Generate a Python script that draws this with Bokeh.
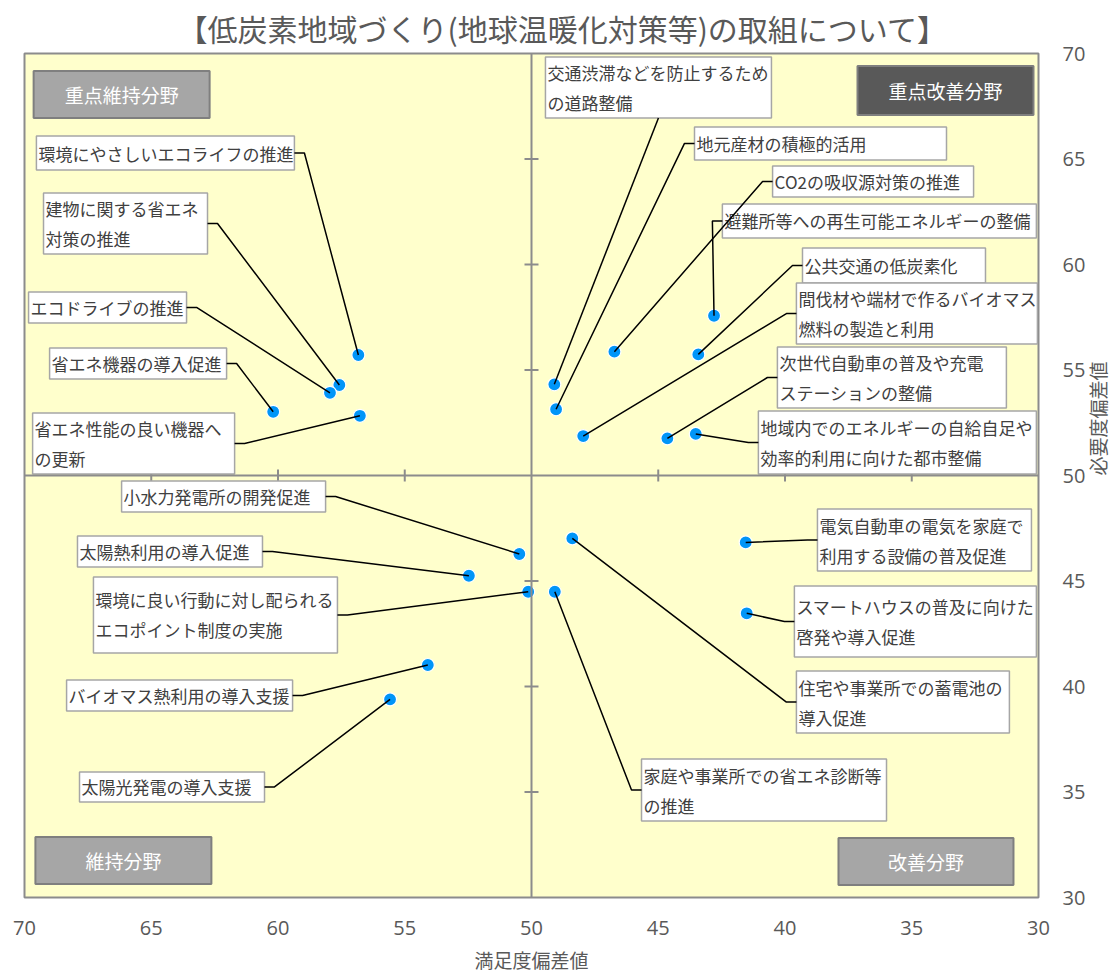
import math
from bokeh.plotting import figure
from bokeh.models import Range1d, FixedTicker, Span
from bokeh.core.properties import value
from bokeh.embed import file_html
from bokeh.resources import INLINE

# ---------------- data ----------------
title_text = "【低炭素地域づくり(地球温暖化対策等)の取組について】"
x_label = "満足度偏差値"
y_label = "必要度偏差値"
x_ticks = [70, 65, 60, 55, 50, 45, 40, 35, 30]
y_ticks = [30, 35, 40, 45, 50, 55, 60, 65, 70]

items = [
    "環境にやさしいエコライフの推進",
    "建物に関する省エネ\n対策の推進",
    "エコドライブの推進",
    "省エネ機器の導入促進",
    "省エネ性能の良い機器へ\nの更新",
    "交通渋滞などを防止するため\nの道路整備",
    "地元産材の積極的活用",
    "CO2の吸収源対策の推進",
    "避難所等への再生可能エネルギーの整備",
    "公共交通の低炭素化",
    "間伐材や端材で作るバイオマス\n燃料の製造と利用",
    "次世代自動車の普及や充電\nステーションの整備",
    "地域内でのエネルギーの自給自足や\n効率的利用に向けた都市整備",
    "小水力発電所の開発促進",
    "太陽熱利用の導入促進",
    "環境に良い行動に対し配られる\nエコポイント制度の実施",
    "バイオマス熱利用の導入支援",
    "太陽光発電の導入支援",
    "電気自動車の電気を家庭で\n利用する設備の普及促進",
    "スマートハウスの普及に向けた\n啓発や導入促進",
    "住宅や事業所での蓄電池の\n導入促進",
    "家庭や事業所での省エネ診断等\nの推進",
]
satisfaction = [56.83, 57.58, 57.95, 60.19, 56.77, 49.10, 49.03, 46.73, 42.80, 43.42, 47.96,
                44.64, 43.52, 50.48, 52.47, 50.13, 54.09, 55.58, 41.55, 41.51, 48.39, 49.08]
necessity = [55.71, 54.29, 53.92, 53.02, 52.83, 54.32, 53.14, 55.87, 57.57, 55.74, 51.87,
             51.76, 51.97, 46.28, 45.25, 44.49, 41.02, 39.39, 46.83, 43.47, 47.02, 44.49]

quadrant_names = ["重点維持分野", "重点改善分野", "維持分野", "改善分野"]

# ---------------- layout (annotation boxes) ----------------
# left / top edge of each label box in axis units, width / height in pixels
box_left = [69.53, 69.25, 69.84, 69.01, 69.68, 49.45, 43.57, 40.49, 42.47, 39.31, 39.55,
            40.30, 41.05, 66.17, 67.91, 67.28, 68.34, 67.83, 38.72, 39.63, 39.55, 45.66]
box_top = [66.09, 63.39, 58.70, 56.04, 52.96, 69.83, 66.52, 64.67, 62.87, 60.78, 59.12,
           56.09, 53.06, 49.74, 47.13, 45.19, 40.31, 35.95, 48.41, 44.76, 40.73, 36.56]
box_w = [258, 164, 158, 177, 202, 226, 252, 201, 314, 183, 241,
         229, 278, 204, 185, 244, 226, 185, 214, 242, 213, 245]
box_h = [34, 61, 31, 31, 61, 61, 33, 31, 34, 35, 61,
         61, 63, 31, 31, 76, 31, 30, 62, 71, 62, 62]

quad_left = [69.64, 37.14, 69.57, 37.89]
quad_top = [69.17, 69.41, 32.87, 32.82]
quad_w = [176, 176, 176, 175]
quad_h = [47, 49, 47, 47]
quad_fill = ["#A6A6A6", "#595959", "#A6A6A6", "#A6A6A6"]

FW, FH = 1014, 844
X0, X1, Y0, Y1 = 70, 30, 30, 70
PX_X = FW / abs(X1 - X0)
PX_Y = FH / abs(Y1 - Y0)

JP = "Noto Sans CJK JP"
GRAY = "#8C8C8C"
TXT = "#404040"

p = figure(frame_width=FW, frame_height=FH,
           x_range=Range1d(X0, X1), y_range=Range1d(Y0, Y1),
           y_axis_location="right",
           output_backend="svg", toolbar_location=None,
           min_border_left=24, min_border_top=53, min_border_right=0, min_border_bottom=0,
           background_fill_color="#FFFFCC", border_fill_color="white",
           outline_line_color=GRAY, outline_line_width=2)
p.grid.visible = False

# title
p.title.text = title_text
p.title.text_font = JP
p.title.text_font_size = "30px"
p.title.text_font_style = "normal"
p.title.text_color = "#595959"
p.title.align = "left"
p.title.offset = 153
p.title.standoff = 7

# axes
for ax in (p.xaxis[0], p.yaxis[0]):
    ax.axis_line_color = None
    ax.major_tick_line_color = None
    ax.minor_tick_line_color = None
    ax.major_tick_out = 0
    ax.major_tick_in = 0
    ax.major_label_text_font = "Open Sans"
    ax.major_label_text_font_size = "20px"
    ax.major_label_text_color = "#595959"
    ax.axis_label_text_font = JP
    ax.axis_label_text_font_size = "19px"
    ax.axis_label_text_font_style = "normal"
    ax.axis_label_text_color = "#595959"
p.xaxis[0].ticker = FixedTicker(ticks=x_ticks)
p.yaxis[0].ticker = FixedTicker(ticks=y_ticks)
p.xaxis[0].axis_label = x_label
p.yaxis[0].axis_label = y_label
p.xaxis[0].major_label_standoff = 23
p.xaxis[0].axis_label_standoff = 8
p.yaxis[0].major_label_standoff = 24
p.yaxis[0].axis_label_standoff = 9
try:
    p.yaxis[0].axis_label_orientation = math.pi / 2
except Exception:
    pass

# centre axes (cross at 50) with cross ticks
p.add_layout(Span(location=50, dimension="height", line_color=GRAY, line_width=2))
p.add_layout(Span(location=50, dimension="width", line_color=GRAY, line_width=2))
tx = [t for t in x_ticks if t not in (X0, X1, 50)]
ty = [t for t in y_ticks if t not in (Y0, Y1, 50)]
p.segment(x0=tx, x1=tx, y0=[50 - 6 / PX_Y] * len(tx), y1=[50 + 6 / PX_Y] * len(tx),
          line_color=GRAY, line_width=2)
p.segment(x0=[50 - 7 / PX_X] * len(ty), x1=[50 + 7 / PX_X] * len(ty), y0=ty, y1=ty,
          line_color=GRAY, line_width=2)

# quadrant category boxes
q_right = [l - w / PX_X for l, w in zip(quad_left, quad_w)]
q_bottom = [t - h / PX_Y for t, h in zip(quad_top, quad_h)]
p.quad(left=quad_left, right=q_right, top=quad_top, bottom=q_bottom,
       fill_color=quad_fill, line_color="#7F7F7F", line_width=2)
p.text(x=[(l + r) / 2 for l, r in zip(quad_left, q_right)],
       y=[(t + b) / 2 for t, b in zip(quad_top, q_bottom)],
       text=quadrant_names, text_font=value(JP), text_font_size="19px",
       text_color="white", text_align="center", text_baseline="middle")

# data points
p.scatter(satisfaction, necessity, size=13, fill_color="#0095F8",
          line_color="white", line_width=1.2)

# label boxes
b_right = [l - w / PX_X for l, w in zip(box_left, box_w)]
b_bottom = [t - h / PX_Y for t, h in zip(box_top, box_h)]
p.quad(left=box_left, right=b_right, top=box_top, bottom=b_bottom,
       fill_color="white", line_color="#A6A6A6", line_width=1.5)

tx_x, tx_y, tx_t = [], [], []
for lab, l, t, h in zip(items, box_left, box_top, box_h):
    lines = lab.split("\n")
    mid = t - h / 2 / PX_Y
    n = len(lines)
    for k, s in enumerate(lines):
        off = (k - (n - 1) / 2) * 30
        tx_x.append(l)
        tx_y.append(mid - off / PX_Y)
        tx_t.append(s)
p.text(x=tx_x, y=tx_y, text=tx_t, x_offset=2, text_font=value(JP), text_font_size="17px",
       text_color=TXT, text_align="left", text_baseline="middle")

# leader lines
xs, ys = [], []
stub = 10
for sx, sy, l, r, t, b in zip(satisfaction, necessity, box_left, b_right, box_top, b_bottom):
    mid = (t + b) / 2
    if sx < r:          # point to the right of box
        xs.append([r, r - stub / PX_X, sx]); ys.append([mid, mid, sy])
    elif sx > l:        # point to the left of box
        xs.append([l, l + stub / PX_X, sx]); ys.append([mid, mid, sy])
    else:               # point below the box
        cx = (l + r) / 2
        xs.append([cx, cx, sx]); ys.append([b, b, sy])
p.multi_line(xs=xs, ys=ys, line_color="black", line_width=1.5)

open("out.html", "w", encoding="utf-8").write(file_html(p, INLINE))
